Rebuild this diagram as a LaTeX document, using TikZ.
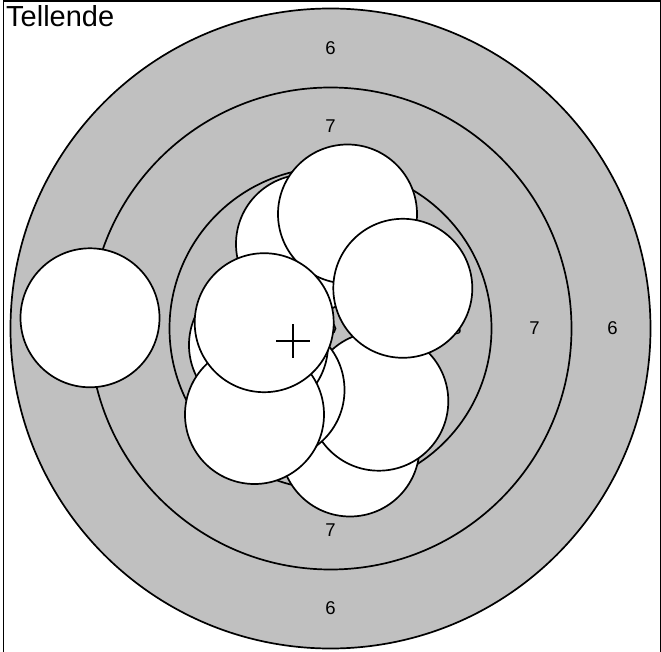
\documentclass[tikz,border=0pt]{standalone}
\usepackage{fontspec}
\setmainfont{Liberation Sans}
\usepackage{tkz-euclide}
\definecolor{targetgray}{RGB}{192,192,192}
\tikzset{
  ring/.style={draw=black,line width=1.7bp},
  shot/.style={draw=black,line width=1.7bp,fill=white},
  ringnum/.style={font=\fontsize{18.5bp}{18.5bp}\selectfont,inner sep=0pt},
}

\begin{document}
\begin{tikzpicture}[x=1bp,y=1bp]
                \useasboundingbox (-330.5,-323.5) rectangle (330.5,328.5);
                \tkzDefPoint(0,0){O}
                \tkzDefPoint(-240.5,10.7){A}
                \tkzDefPoint(17,114.5){B}
                \tkzDefPoint(-25,84.5){C}
                \tkzDefPoint(72.3,40.2){D}
                \tkzDefPoint(-66.3,5.8){E}
                \tkzDefPoint(-72,-16.5){F}
                \tkzDefPoint(-76,-86){G}
                \tkzDefPoint(-55.5,-61.5){H}
                \tkzDefPoint(48.3,-72.7){I}
                \tkzDefPoint(19.5,-118.5){J}
                \tkzDefPoint(-37.2,-12.2){M}
                \draw[line width=1.4bp] (-327,-330) rectangle (330,327.5);
                \fill[targetgray] (O) circle[radius=320];
                \draw[ring] (O) circle[radius=320];
                \draw[ring] (O) circle[radius=241];
                \draw[ring] (O) circle[radius=161];
                \draw[ring] (O) circle[radius=80];
                \draw[ring] (O) circle[radius=5];
                \node[ringnum] (n6t) at (0,280) {6};
                \node[ringnum] (n7t) at (0,202) {7};
                \node[ringnum] (n7b) at (0,-202) {7};
                \node[ringnum] (n6b) at (0,-280) {6};
                \node[ringnum] (n8r) at (126,0) {8};
                \node[ringnum] (n7r) at (204,0) {7};
                \node[ringnum] (n6r) at (282,0) {6};
                \draw[shot] (A) circle[radius=69.5];
                \draw[shot] (J) circle[radius=69.5];
                \draw[shot] (I) circle[radius=69.5];
                \draw[shot] (H) circle[radius=69.5];
                \draw[shot] (F) circle[radius=69.5];
                \draw[shot] (G) circle[radius=69.5];
                \draw[shot] (C) circle[radius=69.5];
                \draw[shot] (B) circle[radius=69.5];
                \draw[shot] (D) circle[radius=69.5];
                \draw[shot] (E) circle[radius=69.5];
                \draw[line width=1.8bp] (M) +(-17,0) -- +(17,0) (M) +(0,-17) -- +(0,17);
                \node[anchor=base west,inner sep=0pt,font=\fontsize{29bp}{29bp}\selectfont] (title) at (-324.5,301.5) {Tellende};
\end{tikzpicture}
\end{document}
